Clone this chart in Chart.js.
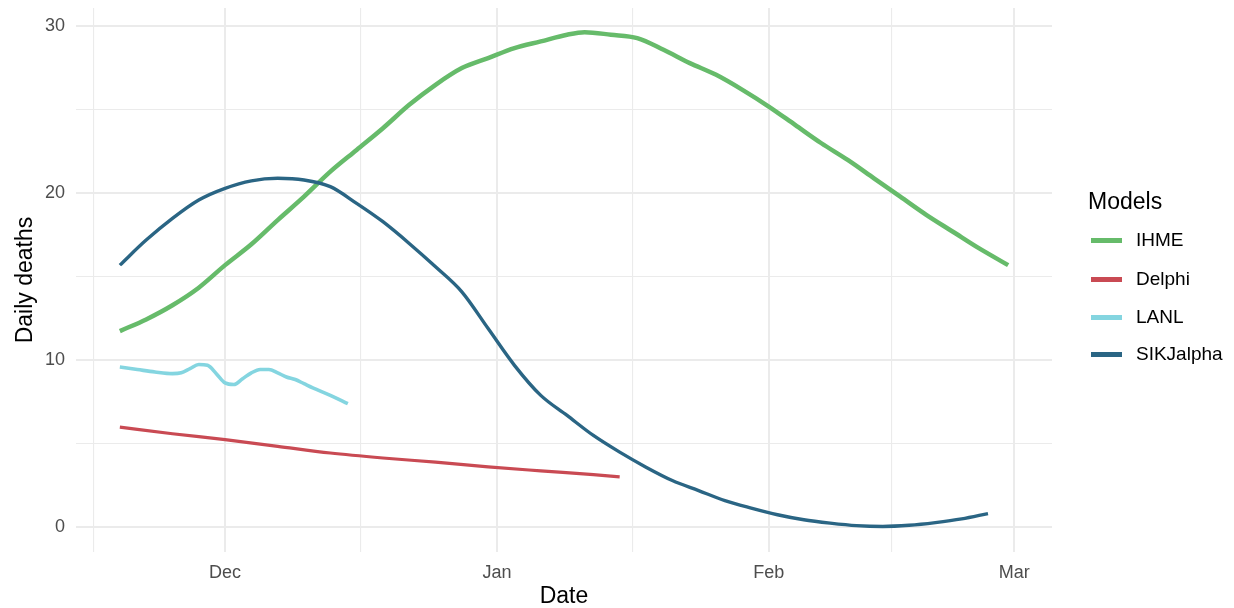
<!DOCTYPE html>
<html>
<head>
<meta charset="utf-8">
<script src="https://cdn.jsdelivr.net/npm/chart.js@4.4.1/dist/chart.umd.min.js"></script>
<style>
  html, body { margin: 0; padding: 0; background: #fff; }
  #wrap { position: relative; width: 1234px; height: 608px; font-family: "Liberation Sans", Arial, sans-serif; }
  #legend div { position: absolute; height: 24px; line-height: 24px; white-space: nowrap; color: #000; }
  #legend .title { font-size: 23px; }
  #legend .label { font-size: 19px; }
  #legend .key { height: 5px; width: 31px; }
</style>
</head>
<body>
<div id="wrap">
  <canvas id="c" width="1234" height="608"></canvas>
  <div id="legend"></div>
</div>
<script>
// days counted from 1 Dec
const ihmeDays   = [-12, -9, -6, -3, 0, 3, 6, 9, 12, 15, 18, 21, 24, 27, 30, 33, 36, 39, 41, 44, 47, 50, 53, 56, 59, 62, 65, 68, 71, 74, 77, 80, 83, 86, 89.3];
const ihmeDeaths = [11.75, 12.45, 13.3, 14.35, 15.7, 16.95, 18.4, 19.8, 21.3, 22.6, 23.9, 25.3, 26.5, 27.5, 28.1, 28.7, 29.1, 29.5, 29.65, 29.5, 29.3, 28.6, 27.8, 27.1, 26.2, 25.2, 24.1, 23.0, 22.0, 20.9, 19.8, 18.7, 17.7, 16.7, 15.7];

const delphiDays   = [-12, -6, 0, 6, 12, 18, 24, 30, 36, 42, 45];
const delphiDeaths = [6.0, 5.6, 5.25, 4.85, 4.45, 4.15, 3.9, 3.62, 3.38, 3.15, 3.02];

const lanlDays   = [-12, -10, -8, -6, -5, -4, -3, -2, -1, 0, 1, 2, 3, 4, 5, 6, 7, 8, 9, 10, 12, 14];
const lanlDeaths = [9.6, 9.45, 9.3, 9.2, 9.25, 9.5, 9.75, 9.7, 9.2, 8.65, 8.55, 8.9, 9.25, 9.45, 9.45, 9.25, 9.0, 8.85, 8.6, 8.35, 7.9, 7.4];

const sikDays   = [-12, -9, -6, -3, 0, 3, 6, 9, 12, 15, 18, 21, 24, 27, 30, 33, 36, 39, 42, 45, 48, 51, 54, 57, 60, 63, 66, 69, 72, 75, 78, 81, 84, 87];
const sikDeaths = [15.7, 17.2, 18.5, 19.6, 20.3, 20.75, 20.9, 20.8, 20.4, 19.4, 18.3, 17.0, 15.6, 14.1, 11.9, 9.7, 7.9, 6.7, 5.5, 4.5, 3.6, 2.8, 2.2, 1.6, 1.15, 0.75, 0.45, 0.25, 0.1, 0.05, 0.12, 0.28, 0.5, 0.82];

const xTickDays   = [-15, 0, 15.5, 31, 46.5, 62, 76, 90];
const xTickLabels = ['', 'Dec', '', 'Jan', '', 'Feb', '', 'Mar'];
const yTicks      = [0, 5, 10, 15, 20, 25, 30];

const pts = (xs, ys) => xs.map((x, i) => ({ x: x, y: ys[i] }));

const series = [
  { label: 'IHME', data: pts(ihmeDays, ihmeDeaths), color: '#66BB6A', width: 4.5 },
  { label: 'Delphi', data: pts(delphiDays, delphiDeaths), color: '#C94A53', width: 3.2 },
  { label: 'LANL', data: pts(lanlDays, lanlDeaths), color: '#84D5E0', width: 3.6 },
  { label: 'SIKJalpha', data: pts(sikDays, sikDeaths), color: '#2A6584', width: 3.4 }
];

// legend (right side, ggplot style)
const legend = document.getElementById('legend');
const legendRows = [240, 279, 317, 354];
legend.insertAdjacentHTML('beforeend', `<div class="title" style="left:1088px;top:189px">Models</div>`);
series.forEach((s, i) => {
  const cy = legendRows[i];
  legend.insertAdjacentHTML('beforeend',
    `<div class="key" style="left:1091px;top:${cy - 2.5}px;background:${s.color}"></div>` +
    `<div class="label" style="left:1136px;top:${cy - 12}px">${s.label}</div>`);
});

const tickFont = { family: '"Liberation Sans", Arial, sans-serif', size: 18 };
const titleFont = { family: '"Liberation Sans", Arial, sans-serif', size: 23 };

// drop the extra room Chart.js keeps for edge labels
const noEdgePad = scale => {
  scale.paddingTop = 0; scale.paddingBottom = 0;
  scale.paddingLeft = 0; scale.paddingRight = 0;
};

new Chart(document.getElementById('c'), {
  type: 'line',
  data: {
    datasets: series.map((s, i) => ({
      label: s.label,
      data: s.data,
      borderColor: s.color,
      backgroundColor: s.color,
      borderWidth: s.width,
      pointRadius: 0,
      fill: false,
      cubicInterpolationMode: 'monotone',
      order: series.length - i
    }))
  },
  options: {
    responsive: false,
    animation: false,
    layout: { padding: { top: 8, right: 182, left: 0, bottom: 0 } },
    plugins: { legend: { display: false }, tooltip: { enabled: false } },
    scales: {
      x: {
        type: 'linear',
        min: -17,
        max: 94.3,
        border: { display: false },
        afterBuildTicks: scale => { scale.ticks = xTickDays.map(v => ({ value: v })); },
        afterFit: scale => { scale.height = 56; noEdgePad(scale); },
        grid: {
          color: '#EBEBEB',
          drawTicks: false,
          lineWidth: ctx => (xTickLabels[xTickDays.indexOf(ctx.tick.value)] ? 2 : 1.1)
        },
        ticks: {
          autoSkip: false,
          maxRotation: 0,
          padding: 10,
          color: '#4D4D4D',
          font: tickFont,
          callback: v => xTickLabels[xTickDays.indexOf(v)] || ''
        },
        title: { display: true, text: 'Date', color: '#000', font: titleFont, padding: { top: 0, bottom: -2 } }
      },
      y: {
        min: -1.48,
        max: 31.1,
        border: { display: false },
        afterBuildTicks: scale => { scale.ticks = yTicks.map(v => ({ value: v })); },
        afterFit: scale => { scale.width = 76; noEdgePad(scale); },
        grid: {
          color: '#EBEBEB',
          drawTicks: false,
          lineWidth: ctx => (ctx.tick.value % 10 === 0 ? 2 : 1.1)
        },
        ticks: {
          padding: 11,
          color: '#4D4D4D',
          font: tickFont,
          callback: v => (v % 10 === 0 ? String(v) : '')
        },
        title: { display: true, text: 'Daily deaths', color: '#000', font: titleFont, padding: { top: 12, bottom: 0 } }
      }
    }
  }
});
</script>
</body>
</html>
